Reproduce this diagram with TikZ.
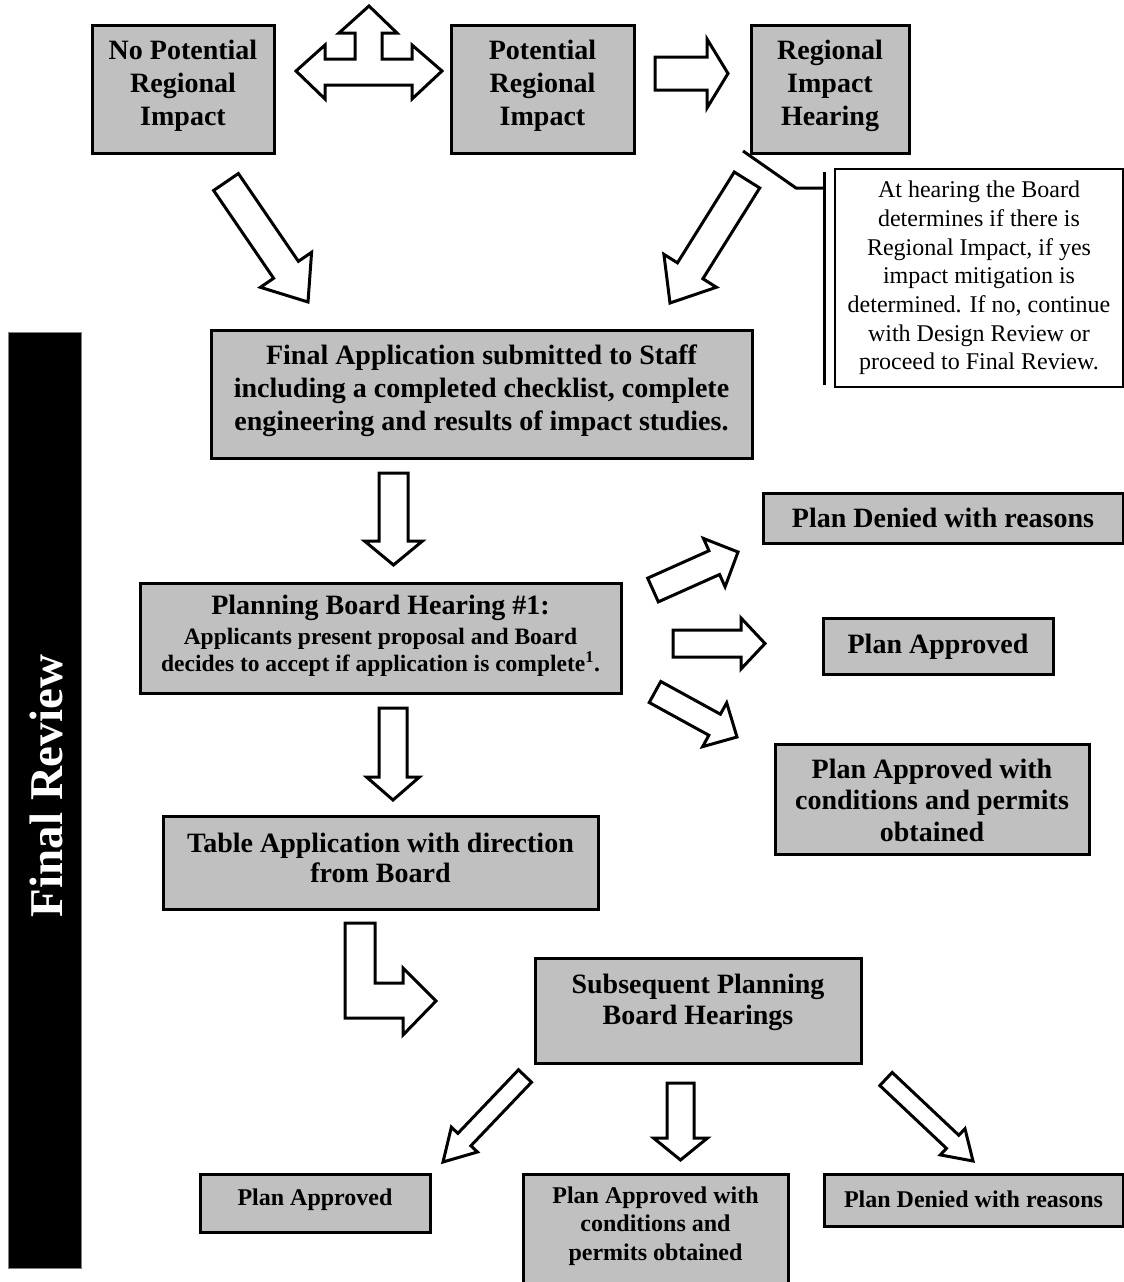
\documentclass[tikz,border=0pt]{standalone}
\usepackage{fontspec}
\setmainfont{Liberation Serif}
\usetikzlibrary{calc,fit}
\definecolor{boxgray}{RGB}{192,192,192}
\tikzset{
  box/.style={draw=black, line width=3pt, fill=boxgray, inner sep=0pt},
  btxt/.style={font=\bfseries\fontsize{28}{33}\selectfont, align=center, inner sep=0pt},
  smtxt/.style={font=\bfseries\fontsize{24}{28.5}\selectfont, align=center, inner sep=0pt},
  notebox/.style={draw=black, line width=2.5pt, fill=white, inner sep=0pt},
  notetxt/.style={font=\fontsize{24}{28.7}\selectfont, align=center, inner sep=0pt},
  barrow/.style={draw=black, line width=3pt, fill=white, line join=miter},
  accent/.style={draw=black, line width=3pt}
}
% block arrow: #1 tail coordinate, #2 tip coordinate, #3 shaft half width, #4 head half width, #5 head length
\newcommand{\blockarr}[5]{%
  \path ($(#2)!#5!(#1)$) coordinate (#1-hb);
  \draw[barrow] ($(#1)!#3!-90:(#2)$) -- ($(#1-hb)!#3!-90:(#2)$) -- ($(#1-hb)!#4!-90:(#2)$)
     -- (#2) -- ($(#1-hb)!#4!90:(#2)$) -- ($(#1-hb)!#3!90:(#2)$) -- ($(#1)!#3!90:(#2)$) -- cycle;}
\begin{document}
\begin{tikzpicture}[x=1pt,y=-1pt]
\useasboundingbox (0,0) rectangle (1124,1282);

% side bar
\node[fill=black, draw=gray, line width=0.8pt, inner sep=0pt, fit={(8,332) (81,1268)}] (bar) {};
\node[rotate=90, text=white, font=\bfseries\fontsize{47}{47}\selectfont, inner sep=0pt] (bartxt) at (46,786) {Final Review};

% top row
\node[box, fit={(92,25) (274,153)}] (npr) {};
\node[btxt] (nprt) at (183,86) {No Potential\\Regional\\Impact};
\node[box, fit={(451,25) (634,153)}] (pr) {};
\node[btxt] (prt) at (542.5,86) {Potential\\Regional\\Impact};
\node[box, fit={(751,25) (909,153)}] (rih) {};
\node[btxt] (riht) at (830,86) {Regional\\Impact\\Hearing};

% callout
\node[notebox, fit={(835,169) (1123,387)}] (note) {};
\node[notetxt] (notet) at (979,278) {At hearing the Board\\determines if there is\\Regional Impact, if yes\\impact mitigation is\\determined. If no, continue\\with Design Review or\\proceed to Final Review.};
\coordinate (c1) at (743,151);
\coordinate (c2) at (796,188);
\coordinate (c3) at (824,188);
\coordinate (cb1) at (824,172);
\coordinate (cb2) at (824,385);
\draw[accent, line join=miter] (c1) -- (c2) -- (c3);
\draw[accent] (cb1) -- (cb2);

% main flow boxes
\node[box, fit={(211,330) (752,458)}] (fa) {};
\node[btxt] (fat) at (481.5,391) {Final Application submitted to Staff\\including a completed checklist, complete\\engineering and results of impact studies.};
\node[box, fit={(140,583) (621,693)}] (pbh) {};
\node[btxt, font=\bfseries\fontsize{23.5}{27.5}\selectfont] (pbht) at (380.5,636) {{\fontsize{28}{30}\selectfont Planning Board Hearing \#1:}\\[2pt]Applicants present proposal and Board\\decides to accept if application is complete\textsuperscript{1}.};
\node[box, fit={(163,816) (598,909)}] (tab) {};
\node[btxt, font=\bfseries\fontsize{28}{30}\selectfont] (tabt) at (380.5,858) {Table Application with direction\\from Board};

% right outcomes
\node[box, fit={(763,493) (1123,543)}] (pd1) {};
\node[btxt] (pd1t) at (943,518) {Plan Denied with reasons};
\node[box, fit={(823,618) (1053,674)}] (pa1) {};
\node[btxt] (pa1t) at (938,647) {Plan Approved};
\node[box, fit={(775,744) (1089,854)}] (pac1) {};
\node[btxt, font=\bfseries\fontsize{28}{31.5}\selectfont] (pac1t) at (932,800) {Plan Approved with\\conditions and permits\\obtained};

% subsequent
\node[box, fit={(535,958) (861,1063)}] (sub) {};
\node[btxt, font=\bfseries\fontsize{28}{31}\selectfont] (subt) at (698,1002) {Subsequent Planning\\Board Hearings};

% bottom outcomes
\node[box, fit={(200,1174) (430,1232)}] (pa2) {};
\node[smtxt] (pa2t) at (315,1200) {Plan Approved};
\node[box, fit={(523,1174) (788,1284)}] (pac2) {};
\node[smtxt] (pac2t) at (655.5,1226) {Plan Approved with\\conditions and\\permits obtained};
\node[box, fit={(824,1174) (1123,1226)}] (pd2) {};
\node[smtxt] (pd2t) at (973.5,1199) {Plan Denied with reasons};

% triple-headed arrow between top boxes
\draw[barrow] (296,71) -- (325,45) -- (325,59) -- (355,59) -- (355,33) -- (339,33) -- (369,6)
  -- (397,33) -- (382,33) -- (382,59) -- (412,59) -- (412,45) -- (442,71) -- (412,99)
  -- (412,85) -- (325,85) -- (325,99) -- cycle;

% block arrows
\coordinate (a11) at (655,73.5);  \coordinate (a11h) at (728,73.5);
\blockarr{a11}{a11h}{16.5pt}{34.5pt}{21pt}
\coordinate (a1) at (226,182);  \coordinate (a1h) at (308,302);
\blockarr{a1}{a1h}{15pt}{31pt}{39pt}
\coordinate (a2) at (747,180);  \coordinate (a2h) at (670,303);
\blockarr{a2}{a2h}{15pt}{31pt}{38pt}
\coordinate (a3) at (393.5,473);  \coordinate (a3h) at (393.5,565);
\blockarr{a3}{a3h}{14.5pt}{29pt}{24pt}
\coordinate (a4) at (653,590);  \coordinate (a4h) at (738,552);
\blockarr{a4}{a4h}{13pt}{26.5pt}{26pt}
\coordinate (a5) at (673,643.5);  \coordinate (a5h) at (765,643.5);
\blockarr{a5}{a5h}{13.5pt}{25.5pt}{24pt}
\coordinate (a6) at (655,692);  \coordinate (a6h) at (737,737);
\blockarr{a6}{a6h}{12pt}{25pt}{25.5pt}
\coordinate (a7) at (393,708);  \coordinate (a7h) at (393,800);
\blockarr{a7}{a7h}{14pt}{26.5pt}{23pt}
\coordinate (a8) at (525,1076);  \coordinate (a8h) at (443,1162);
\blockarr{a8}{a8h}{9pt}{18pt}{31pt}
\coordinate (a9) at (680.5,1083);  \coordinate (a9h) at (680.5,1160);
\blockarr{a9}{a9h}{13.5pt}{27pt}{22pt}
\coordinate (a10) at (886,1079);  \coordinate (a10h) at (973,1161);
\blockarr{a10}{a10h}{9pt}{18pt}{28pt}

% bent arrow
\draw[barrow] (345,923) -- (375,923) -- (375,983) -- (403,983) -- (403,968) -- (436,1001)
  -- (403,1035) -- (403,1018) -- (345,1018) -- cycle;
\end{tikzpicture}
\end{document}
